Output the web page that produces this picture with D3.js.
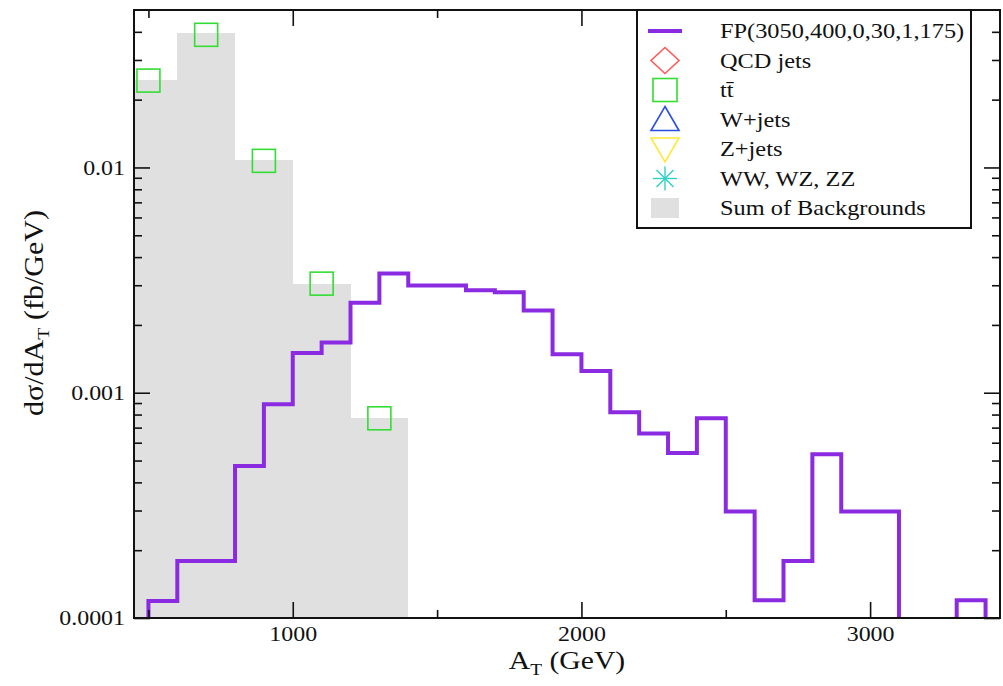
<!DOCTYPE html>
<html>
<head>
<meta charset="utf-8">
<script src="https://cdn.jsdelivr.net/npm/d3@7"></script>
<style>
  body { margin: 0; background: #fff; }
  text { font-family: "Liberation Serif", "Times New Roman", serif; fill: #111; }
</style>
</head>
<body>
<div id="chart"></div>
<script>
//* ------------------------------ DATA ---------------------------------------- //
// signal FP(3050,400,0,30,1,175), bins of 100 GeV (low edges)
const signalBins = [500, 600, 700, 800, 900, 1000, 1100, 1200, 1300, 1400, 1500, 1600, 1700, 1800, 1900,
  2000, 2100, 2200, 2300, 2400, 2500, 2600, 2700, 2800, 2900, 3000, 3100, 3200, 3300];
const signalValues = [1.19e-4, 1.79e-4, 1.79e-4, 4.73e-4, 8.9e-4, 1.50e-3, 1.67e-3, 2.51e-3, 3.38e-3, 2.99e-3,
  2.99e-3, 2.85e-3, 2.79e-3, 2.32e-3, 1.48e-3, 1.25e-3, 8.2e-4, 6.6e-4, 5.4e-4, 7.7e-4,
  2.97e-4, 1.20e-4, 1.79e-4, 5.33e-4, 2.97e-4, 2.97e-4, 0, 0, 1.20e-4];
const signalBinWidth = 100;

// sum of backgrounds, bins of 200 GeV (low edges)
const bkgBins = [400, 600, 800, 1000, 1200];
const bkgValues = [0.0245, 0.0394, 0.0108, 0.00305, 0.000776];
const bkgBinWidth = 200;

// ttbar points (bin centres)
const ttbarX = [500, 700, 900, 1100, 1300];
const ttbarValues = [0.0243, 0.0388, 0.0107, 0.00305, 0.00077];

const xMajorTicks = [1000, 2000, 3000];
const xMinorTicks = [500, 1500, 2500];
const yMajorTicks = [1e-4, 1e-3, 1e-2];
const yMinorTicks = [2e-4, 3e-4, 4e-4, 5e-4, 6e-4, 7e-4, 8e-4, 9e-4,
  2e-3, 3e-3, 4e-3, 5e-3, 6e-3, 7e-3, 8e-3, 9e-3, 2e-2, 3e-2, 4e-2];

const legendLabels = ["FP(3050,400,0,30,1,175)", "QCD jets", "tt\u0304", "W+jets", "Z+jets", "WW, WZ, ZZ", "Sum of Backgrounds"];
const legendKinds = ["line", "diamond", "square", "triangle", "triangleDown", "asterisk", "fill"];
const legendColors = ["#8a2be2", "#ff5a5a", "#33dd33", "#2a4de8", "#ffe83a", "#30d2c4", "#e0e0e0"];
//* ------------------------------ END DATA ------------------------------------ //

const W = 1003, H = 686;
const plotLeft = 134, plotRight = 1000, plotTop = 10, plotBottom = 618;
const stretch = 1.14; // the original glyphs are a little wider than Liberation Serif

const svg = d3.select("#chart").append("svg")
  .attr("width", W).attr("height", H);

svg.append("rect").attr("width", W).attr("height", H).attr("fill", "#fff");

const x = d3.scaleLinear().domain([450, 3450]).range([plotLeft, plotRight]);
const y = d3.scaleLog().domain([1e-4, 0.05]).range([plotBottom, plotTop]);

svg.append("clipPath").attr("id", "plot-clip")
  .append("rect").attr("x", plotLeft).attr("y", plotTop)
  .attr("width", plotRight - plotLeft).attr("height", plotBottom - plotTop);

const plot = svg.append("g").attr("clip-path", "url(#plot-clip)");

// background sum (grey fill)
plot.selectAll("rect.bkg").data(bkgBins).join("rect")
  .attr("class", "bkg")
  .attr("x", d => x(d))
  .attr("width", d => x(d + bkgBinWidth) - x(d))
  .attr("y", (d, i) => y(bkgValues[i]))
  .attr("height", (d, i) => plotBottom - y(bkgValues[i]))
  .attr("fill", "#e0e0e0")
  .attr("shape-rendering", "crispEdges");

// axes ticks
function drawAxis(axis, transform) {
  const g = svg.append("g").attr("transform", transform).call(axis);
  g.select(".domain").remove();
  g.selectAll(".tick line").attr("stroke", "#111").attr("stroke-width", 1.6);
  g.selectAll(".tick text").attr("font-size", 21).attr("fill", "#111")
    .style("font-family", "'Liberation Serif', serif");
  return g;
}

const xAx = drawAxis(d3.axisBottom(x).tickValues(xMajorTicks).tickSize(-16).tickPadding(8).tickFormat(d3.format("d")),
  `translate(0,${plotBottom})`);
xAx.selectAll(".tick text").attr("transform", `scale(${stretch},1)`);
drawAxis(d3.axisBottom(x).tickValues(xMinorTicks).tickSize(-8).tickFormat(""), `translate(0,${plotBottom})`);
drawAxis(d3.axisTop(x).tickValues(xMajorTicks).tickSize(-16).tickFormat(""), `translate(0,${plotTop})`);
drawAxis(d3.axisTop(x).tickValues(xMinorTicks).tickSize(-8).tickFormat(""), `translate(0,${plotTop})`);

const yAx = drawAxis(d3.axisLeft(y).tickValues(yMajorTicks).tickSize(-16).tickPadding(9).tickFormat(d3.format("")),
  `translate(${plotLeft},0)`);
yAx.selectAll(".tick text").attr("x", -9 / stretch).attr("transform", `scale(${stretch},1)`);
drawAxis(d3.axisLeft(y).tickValues(yMinorTicks).tickSize(-8).tickFormat(""), `translate(${plotLeft},0)`);
drawAxis(d3.axisRight(y).tickValues(yMajorTicks).tickSize(-16).tickFormat(""), `translate(${plotRight},0)`);
drawAxis(d3.axisRight(y).tickValues(yMinorTicks).tickSize(-8).tickFormat(""), `translate(${plotRight},0)`);

// signal step histogram
const path = d3.path();
signalBins.forEach((b, i) => {
  const v = signalValues[i];
  if (!v) return;
  const prev = i > 0 ? signalValues[i - 1] : 0;
  const next = i < signalBins.length - 1 ? signalValues[i + 1] : 0;
  const x0 = x(b), x1 = x(b + signalBinWidth), yv = y(v);
  if (!prev) { path.moveTo(x0, plotBottom + 3); }
  path.lineTo(x0, yv);
  path.lineTo(x1, yv);
  if (!next) path.lineTo(x1, plotBottom + 3);
});
plot.append("path")
  .attr("d", path.toString())
  .attr("fill", "none")
  .attr("stroke", "#8a2be2")
  .attr("stroke-width", 4)
  .attr("stroke-linejoin", "miter");

// ttbar squares
const sq = 23;
plot.selectAll("rect.tt").data(ttbarX).join("rect")
  .attr("class", "tt")
  .attr("x", d => x(d) - sq / 2)
  .attr("y", (d, i) => y(ttbarValues[i]) - sq / 2)
  .attr("width", sq).attr("height", sq)
  .attr("fill", "none")
  .attr("stroke", "#33dd33")
  .attr("stroke-width", 1.6);

// frame
svg.append("rect")
  .attr("x", plotLeft).attr("y", plotTop)
  .attr("width", plotRight - plotLeft).attr("height", plotBottom - plotTop)
  .attr("fill", "none").attr("stroke", "#111").attr("stroke-width", 2);

// axis labels
const xl = svg.append("text")
  .attr("transform", `translate(${(plotLeft + plotRight) / 2},669) scale(${stretch},1)`)
  .attr("text-anchor", "middle").attr("font-size", 26);
xl.append("tspan").text("A");
xl.append("tspan").text("T").attr("font-size", 17).attr("dy", 6);
xl.append("tspan").text(" (GeV)").attr("dy", -6);

const yl = svg.append("text")
  .attr("transform", `translate(43,313) rotate(-90) scale(1,0.88)`)
  .attr("text-anchor", "middle").attr("font-size", 30);
yl.append("tspan").text("d\u03c3/dA");
yl.append("tspan").text("T").attr("font-size", 20).attr("dy", 7);
yl.append("tspan").text(" (fb/GeV)").attr("dy", -7);

// legend
const lg = svg.append("g");
lg.append("rect")
  .attr("x", 637).attr("y", plotTop)
  .attr("width", 334).attr("height", 218)
  .attr("fill", "#fff").attr("stroke", "#111").attr("stroke-width", 2);

const rowY = d3.scaleLinear().domain([0, legendLabels.length - 1]).range([31, 208]);
const symX = 665;
legendLabels.forEach((lab, i) => {
  const cy = rowY(i), c = legendColors[i], k = legendKinds[i];
  const g = lg.append("g");
  if (k === "line") {
    g.append("line").attr("x1", symX - 17).attr("x2", symX + 17).attr("y1", cy).attr("y2", cy)
      .attr("stroke", c).attr("stroke-width", 4);
  } else if (k === "diamond") {
    g.append("path").attr("d", `M${symX},${cy - 13}L${symX + 14},${cy}L${symX},${cy + 13}L${symX - 14},${cy}Z`)
      .attr("fill", "none").attr("stroke", c).attr("stroke-width", 1.6);
  } else if (k === "square") {
    g.append("rect").attr("x", symX - 12).attr("y", cy - 11.5).attr("width", 24).attr("height", 23)
      .attr("fill", "none").attr("stroke", c).attr("stroke-width", 1.6);
  } else if (k === "triangle") {
    g.append("path").attr("d", `M${symX},${cy - 13}L${symX + 14},${cy + 11}L${symX - 14},${cy + 11}Z`)
      .attr("fill", "none").attr("stroke", c).attr("stroke-width", 1.6);
  } else if (k === "triangleDown") {
    g.append("path").attr("d", `M${symX - 14},${cy - 11}L${symX + 14},${cy - 11}L${symX},${cy + 13}Z`)
      .attr("fill", "none").attr("stroke", c).attr("stroke-width", 1.6);
  } else if (k === "asterisk") {
    const r = 12;
    [0, 45, 90, 135].forEach(a => {
      const dx = r * Math.cos(a * Math.PI / 180), dy = r * Math.sin(a * Math.PI / 180);
      g.append("line").attr("x1", symX - dx).attr("x2", symX + dx).attr("y1", cy - dy).attr("y2", cy + dy)
        .attr("stroke", c).attr("stroke-width", 1.4);
    });
  } else {
    g.append("rect").attr("x", symX - 14).attr("y", cy - 10).attr("width", 28).attr("height", 20)
      .attr("fill", c);
  }
  lg.append("text")
    .attr("transform", `translate(720,${cy + 7}) scale(1.16,1)`)
    .attr("font-size", 21).text(lab);
});
</script>
</body>
</html>
